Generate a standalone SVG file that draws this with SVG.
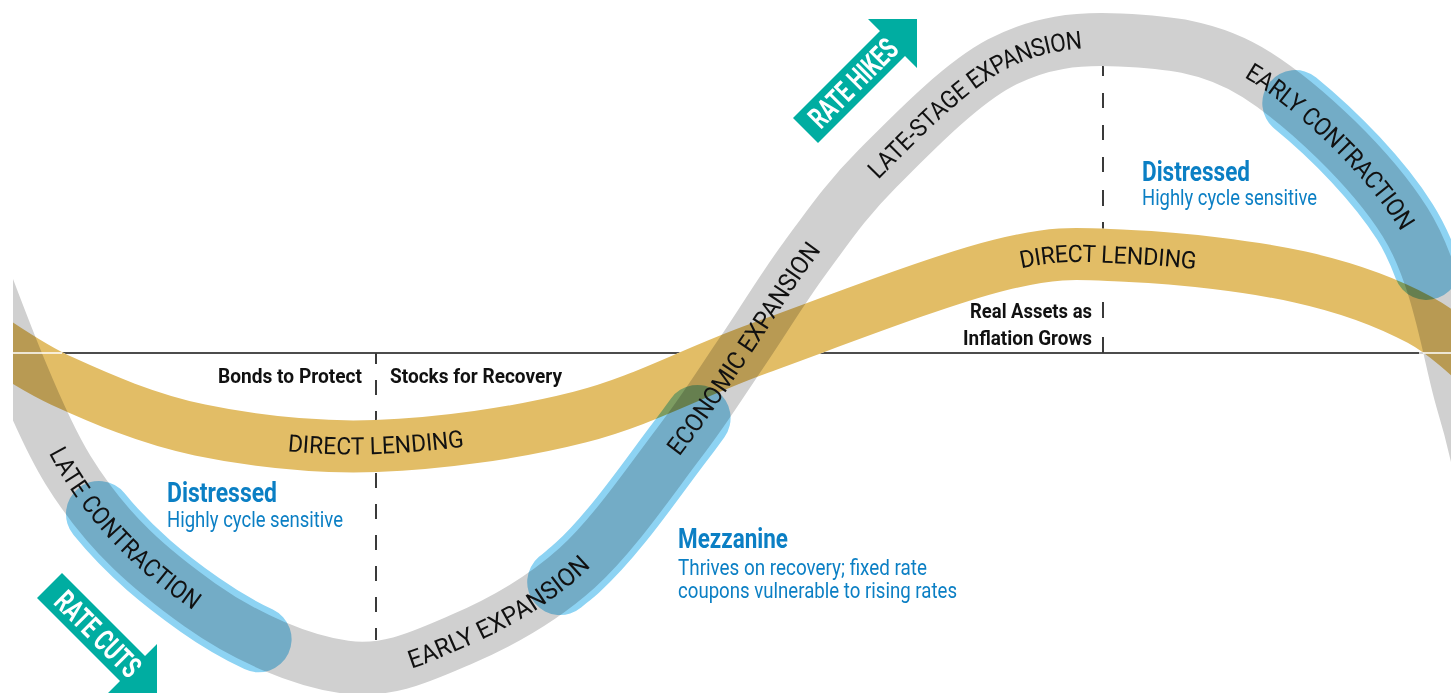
<svg xmlns="http://www.w3.org/2000/svg" width="1451" height="693" viewBox="0 0 1451 693">
<defs>
<style>
.band{fill:none;mix-blend-mode:multiply}
.gray{stroke:#d0d0d0;stroke-width:53}
.gold{stroke:#e2bd66;stroke-width:52}
.blue{fill:none;stroke:#8dd3f3;stroke-width:66;stroke-linecap:round;mix-blend-mode:multiply}
.knock{fill:none;stroke:#fff}
.lbl{font-family:Roboto,"Liberation Sans",sans-serif;font-size:25px;fill:#111}
.dl{font-family:Roboto,"Liberation Sans",sans-serif;font-size:24px;fill:#111}
.b{font-family:Roboto,"Liberation Sans",sans-serif;font-weight:700;fill:#111;font-size:21px}
.bt{font-family:Roboto,"Liberation Sans",sans-serif;fill:#0b7fc4;font-size:21.5px}
.bh{font-family:Roboto,"Liberation Sans",sans-serif;fill:#0b7fc4;font-weight:700;font-size:27px}
.arw{fill:#00ada1}
.at{font-family:Roboto,"Liberation Sans",sans-serif;font-weight:700;fill:#fff;font-size:30px}
.dash{fill:none;stroke:#3a3a3a;stroke-width:2}
</style>
<clipPath id="clip"><rect x="13" y="0" width="1438" height="693"/></clipPath>
<path id="grayPath" d="M -40 215 C -22 257.5 28 405 68 470 C 108 535 153.8 572.2 200 605 C 246.2 637.8 301.7 661.2 345 667 C 388.3 672.8 421.3 656.5 460 640 C 498.7 623.5 540.5 600.8 577 568 C 613.5 535.2 651.5 479 679 443 C 706.5 407 721 382.8 742 352 C 763 321.2 782.3 288.7 805 258 C 827.7 227.3 845.5 200.5 878 168 C 910.5 135.5 959.7 84.3 1000 63 C 1040.3 41.7 1077.2 38 1120 40 C 1162.8 42 1209.5 44.7 1257 75 C 1304.5 105.3 1370.8 167.8 1405 222 C 1439.2 276.2 1449.5 358.7 1462 400 C 1474.5 441.3 1477 458.3 1480 470"/>
<path id="goldPath" d="M -30 325 C -14.7 334.3 23.7 363.5 62 381 C 100.3 398.5 147.7 419.2 200 430 C 252.3 440.8 312.7 448.2 376 446 C 439.3 443.8 516 433.3 580 417 C 644 400.7 690 373.3 760 348 C 830 322.7 938.3 280.3 1000 265 C 1061.7 249.7 1080 254 1130 256 C 1180 258 1251.7 266.3 1300 277 C 1348.3 287.7 1386.7 302 1420 320 C 1453.3 338 1486.7 374.2 1500 385"/>
<path id="pLC" d="M -40 215 C -22 257.5 28 405 68 470 C 108 535 153.8 572.2 200 605 C 246.2 637.8 301.7 661.2 345 667"/>
<path id="pEE" d="M 200 605 C 246.2 637.8 301.7 661.2 345 667 C 388.3 672.8 421.3 656.5 460 640 C 498.7 623.5 540.5 600.8 577 568 C 613.5 535.2 651.5 479 679 443"/>
<path id="pEC" d="M 577 568 C 613.5 535.2 651.5 479 679 443 C 706.5 407 721 382.8 742 352 C 763 321.2 782.3 288.7 805 258 C 827.7 227.3 845.5 200.5 878 168"/>
<path id="pLS" d="M 805 258 C 827.7 227.3 845.5 200.5 878 168 C 910.5 135.5 959.7 84.3 1000 63 C 1040.3 41.7 1077.2 38 1120 40 C 1162.8 42 1209.5 44.7 1257 75"/>
<path id="pECo" d="M 1000 63 C 1040.3 41.7 1077.2 38 1120 40 C 1162.8 42 1209.5 44.7 1257 75 C 1304.5 105.3 1370.8 167.8 1405 222 C 1439.2 276.2 1449.5 358.7 1462 400"/>
<path id="pDL1" d="M 62 381 C 100.3 398.5 147.7 419.2 200 430 C 252.3 440.8 312.7 448.2 376 446 C 439.3 443.8 516 433.3 580 417 C 644 400.7 690 373.3 760 348"/>
<path id="pDL2" d="M 580 417 C 644 400.7 690 373.3 760 348 C 830 322.7 938.3 280.3 1000 265 C 1061.7 249.7 1080 254 1130 256 C 1180 258 1251.7 266.3 1300 277"/>
</defs>
<rect width="1451" height="693" fill="#fff"/>
<g id="axes">
<line x1="13" y1="353" x2="1451" y2="353" stroke="#111" stroke-width="1.5"/>
<path class="dash" d="M376 353V364M376 380V395M376 411V426M376 442V457M376 473V488M376 504V519M376 535V550M376 566V581M376 597V612M376 628V640"/>
<path class="dash" d="M1103 65V76M1103 93V108M1103 125V140M1103 157V172M1103 190V206M1103 222V234M1103 302V318M1103 337V353"/>
</g>
<g id="knockout" clip-path="url(#clip)">
<use href="#grayPath" class="knock" style="stroke-width:53"/>
<use href="#goldPath" class="knock" style="stroke-width:52"/>
</g>
<g id="bands" clip-path="url(#clip)">
<use id="cycle-band" href="#grayPath" class="band gray"/>
<use id="direct-lending-band" href="#goldPath" class="band gold"/>
</g>
<g id="highlights">
<path id="hl-late-contraction" class="blue" d="M 99 514 C 130.9 553.3 165.4 580.4 200 605 C 218.5 618.1 238.5 629.7 258.6 639.3"/>
<path id="hl-mezzanine" class="blue" d="M 560.2 582.1 C 565.9 577.3 571.5 572.9 577 568 C 613.5 535.2 651.5 479 679 443 C 685.9 434 692 425.7 697.6 417.9"/>
<path id="hl-early-contraction" class="blue" d="M 1295.3 103.1 C 1335.7 136 1379.35 181.35 1405 222 C 1413.55 235.55 1420.6 250.9 1426.6 266.9"/>
</g>
<g id="axis-knock">
<line x1="13" y1="353" x2="62" y2="353" stroke="#fff" stroke-width="1.5"/>
<line x1="1419" y1="353" x2="1451" y2="353" stroke="#fff" stroke-width="1.5"/>
</g>
<g id="phase-labels">
<text class="lbl" dy="8.5"><textPath href="#pLC" startOffset="253" textLength="212" lengthAdjust="spacingAndGlyphs">LATE CONTRACTION</textPath></text>
<text class="lbl" dy="8.5"><textPath href="#pEE" startOffset="223.5" textLength="205" lengthAdjust="spacingAndGlyphs">EARLY EXPANSION</textPath></text>
<text class="lbl" dy="8.5"><textPath href="#pEC" startOffset="150.5" textLength="251" lengthAdjust="spacingAndGlyphs">ECONOMIC EXPANSION</textPath></text>
<text class="lbl" dy="8.5"><textPath href="#pLS" startOffset="108" textLength="255" lengthAdjust="spacingAndGlyphs">LATE-STAGE EXPANSION</textPath></text>
<text class="lbl" dy="8.5"><textPath href="#pECo" startOffset="257" textLength="226" lengthAdjust="spacingAndGlyphs">EARLY CONTRACTION</textPath></text>
<text class="dl" dy="8"><textPath href="#pDL1" startOffset="236" textLength="176" lengthAdjust="spacingAndGlyphs">DIRECT LENDING</textPath></text>
<text class="dl" dy="8"><textPath href="#pDL2" startOffset="467" textLength="178" lengthAdjust="spacingAndGlyphs">DIRECT LENDING</textPath></text>
</g>
<g id="asset-labels">
<text class="b" x="218" y="383" textLength="144" lengthAdjust="spacingAndGlyphs">Bonds to Protect</text>
<text class="b" x="390" y="383" textLength="172" lengthAdjust="spacingAndGlyphs">Stocks for Recovery</text>
<text class="b" x="970" y="318" textLength="122" lengthAdjust="spacingAndGlyphs">Real Assets as</text>
<text class="b" x="963" y="345" textLength="129" lengthAdjust="spacingAndGlyphs">Inflation Grows</text>
</g>
<g id="note-distressed-left">
<text class="bh" x="167" y="502" textLength="110" lengthAdjust="spacingAndGlyphs">Distressed</text>
<text class="bt" x="167" y="527" textLength="176" lengthAdjust="spacingAndGlyphs">Highly cycle sensitive</text>
</g>
<g id="note-distressed-right">
<text class="bh" x="1142" y="181" textLength="108" lengthAdjust="spacingAndGlyphs">Distressed</text>
<text class="bt" x="1142" y="205" textLength="175" lengthAdjust="spacingAndGlyphs">Highly cycle sensitive</text>
</g>
<g id="note-mezzanine">
<text class="bh" x="678" y="548" textLength="110" lengthAdjust="spacingAndGlyphs">Mezzanine</text>
<text class="bt" x="678" y="575" textLength="249" lengthAdjust="spacingAndGlyphs">Thrives on recovery; fixed rate</text>
<text class="bt" x="678" y="598" textLength="279" lengthAdjust="spacingAndGlyphs">coupons vulnerable to rising rates</text>
</g>
<g id="arrow-rate-hikes">
<polygon class="arw" points="793,118 880,31 868,19 917,19 917,68 905,56 818,143"/>
<text class="at" transform="rotate(-45 853 83)" x="797" y="93.5" textLength="112" lengthAdjust="spacingAndGlyphs">RATE HIKES</text>
</g>
<g id="arrow-rate-cuts">
<polygon class="arw" points="37,598 62,573 145,656 157,644 157,693 108,693 120,681"/>
<text class="at" transform="rotate(45 98 634)" x="44" y="644.5" textLength="108" lengthAdjust="spacingAndGlyphs">RATE CUTS</text>
</g>
</svg>
